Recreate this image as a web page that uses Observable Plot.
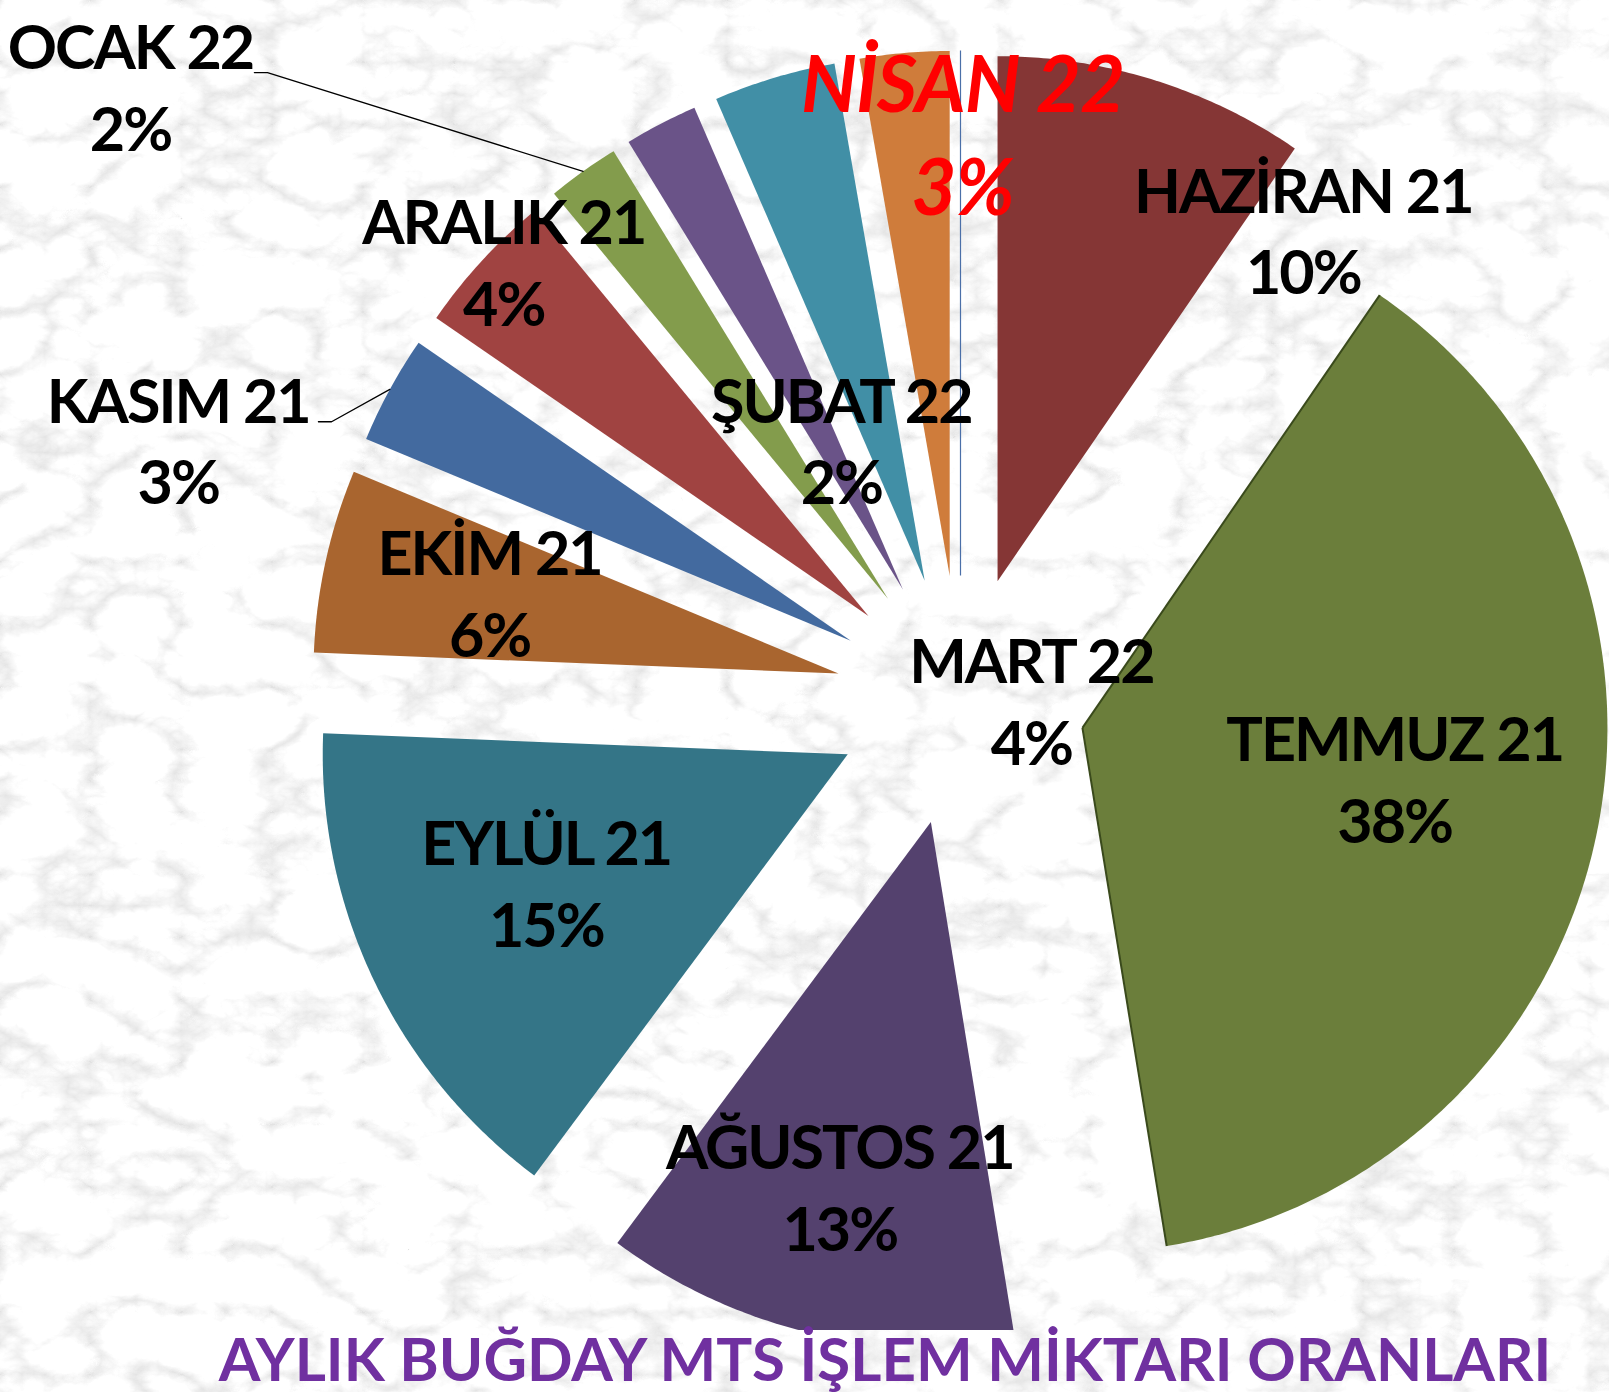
<!DOCTYPE html>
<html>
<head>
<meta charset="utf-8">
<script src="https://cdn.jsdelivr.net/npm/d3@7"></script>
<script src="https://cdn.jsdelivr.net/npm/@observablehq/plot@0.6"></script>
<style>
  html, body { margin: 0; padding: 0; }
  body { width: 1609px; height: 1392px; position: relative; overflow: hidden; font-family: Lato, "Open Sans", sans-serif; }
  #bg { position: absolute; left: 0; top: 0; }
  #chart { position: absolute; left: 0; top: 0; }
  #title { position: absolute; top: 1325px; left: 885px; transform: translateX(-50%); white-space: nowrap;
           font-family: Lato, sans-serif; font-weight: 700; font-size: 60px; line-height: 66px; color: #7030A0; }
</style>
</head>
<body>
<svg id="bg" width="1609" height="1392">
  <defs>
    <filter id="marble" x="0" y="0" width="100%" height="100%" color-interpolation-filters="sRGB">
      <feTurbulence type="turbulence" baseFrequency="0.011 0.016" numOctaves="6" seed="11" result="n"/>
      <feColorMatrix in="n" type="matrix" values="0.38 0 0 0 0.885  0.38 0 0 0 0.885  0.38 0 0 0 0.885  0 0 0 0 1"/>
    </filter>
  </defs>
  <rect width="1609" height="1392" fill="#f4f4f4"/>
  <rect width="1609" height="1392" filter="url(#marble)"/>
</svg>
<div id="chart"></div>
<div id="title">AYLIK BUĞDAY MTS İŞLEM MİKTARI ORANLARI</div>
<script>
// ---- data ----
const months = ["HAZİRAN 21", "TEMMUZ 21", "AĞUSTOS 21", "EYLÜL 21", "EKİM 21", "KASIM 21",
                "ARALIK 21", "OCAK 22", "ŞUBAT 22", "MART 22", "NİSAN 22", "MAYIS 22"];
const shares = [9.58, 37.85, 12.75, 15.45, 5.64, 3.33, 4.42, 2.22, 2.25, 3.75, 2.75, 0];
const colors = ["#853635", "#6B7E3B", "#54416E", "#347587", "#A9652F", "#436A9F",
                "#A04341", "#839C4C", "#6A5388", "#418FA6", "#CF7C3B", "#4A6FA8"];
const highlight = "NİSAN 22";
const outlined = "TEMMUZ 21";
// label centres, in pie-radius units relative to the pie centre (y up)
const labelPos = [[0.653, 0.901], [0.827, -0.143], [-0.230, -0.920], [-0.789, -0.341], [-0.897, 0.211],
                  [-1.490, 0.501], [-0.870, 0.841], [-1.581, 1.175], [-0.227, 0.501], [0.135, 0.005],
                  [0.004, 1.085], null];
// leader line start points (pie-radius units)
const leaders = [{month: "OCAK 22", u: -1.345, v: 1.196}, {month: "KASIM 21", u: -1.223, v: 0.531}];

// ---- geometry ----
const EXPLODE = 0.238;
const total = d3.sum(shares);
const arcs = d3.pie().sort(null).value(d => d)(shares);
const slices = arcs.map((p, i) => {
  const mid = (p.startAngle + p.endAngle) / 2;
  return {month: months[i], share: shares[i], start: p.startAngle, end: p.endAngle, mid,
          ax: EXPLODE * Math.sin(mid), ay: EXPLODE * Math.cos(mid),
          pct: Math.round(shares[i] / total * 100) + "%"};
});
const pts = slices.flatMap(s => {
  const n = Math.max(1, Math.ceil((s.end - s.start) / (Math.PI / 360)));
  const arr = [{month: s.month, x: s.ax, y: s.ay}];
  for (let k = 0; k <= n; k++) {
    const a = s.start + (s.end - s.start) * k / n;
    arr.push({month: s.month, x: s.ax + Math.sin(a), y: s.ay + Math.cos(a)});
  }
  arr.push({month: s.month, x: s.ax, y: s.ay});
  return arr;
});
const edges = slices.filter(s => s.month === outlined).flatMap(s => [s.start, s.end].map(a => ({
  month: s.month, x1: s.ax, y1: s.ay, x2: s.ax + Math.sin(a), y2: s.ay + Math.cos(a)})));
const zeroEdges = slices.filter(s => s.share === 0).map(s => ({
  month: s.month, x1: s.ax, y1: s.ay, x2: s.ax + Math.sin(s.start), y2: s.ay + Math.cos(s.start)}));
const labels = slices.map((s, i) => labelPos[i] && ({month: s.month, pct: s.pct, u: labelPos[i][0], v: labelPos[i][1]})).filter(Boolean);
const leaderPts = leaders.flatMap(l => {
  const s = slices.find(d => d.month === l.month);
  return [
    {month: l.month, x: l.u, y: l.v},
    {month: l.month, x: l.u + 0.025, y: l.v},
    {month: l.month, x: s.ax + Math.sin(s.mid), y: s.ay + Math.cos(s.mid)}
  ];
});

const R = 525, CX = 960, CY = 700, W = 1609, H = 1330;
const chart = Plot.plot({
  width: W, height: H, margin: 0,
  x: {domain: [-CX / R, (W - CX) / R], axis: null},
  y: {domain: [-(H - CY) / R, CY / R], axis: null},
  color: {domain: months, range: colors},
  style: {background: "transparent", fontFamily: "Lato, sans-serif"},
  marks: [
    Plot.line(pts.filter(d => d.month !== "MAYIS 22"), {x: "x", y: "y", z: "month", fill: "month", stroke: "none", curve: "linear"}),
    Plot.link(edges, {x1: "x1", y1: "y1", x2: "x2", y2: "y2", stroke: "#3A4A1C", strokeWidth: 2}),
    Plot.link(zeroEdges, {x1: "x1", y1: "y1", x2: "x2", y2: "y2", stroke: "month", strokeWidth: 1.2}),
    Plot.line(leaderPts, {x: "x", y: "y", z: "month", stroke: "black", strokeWidth: 1.3}),
    Plot.text(labels.filter(d => d.month !== highlight), {x: "u", y: "v", text: d => `${d.month}\n${d.pct}`,
      fontSize: 61, fontWeight: "bold", lineHeight: 1.34, fill: "black", className: "lbl"}),
    Plot.text(labels.filter(d => d.month === highlight), {x: "u", y: "v", text: d => `${d.month}\n${d.pct}`,
      fontSize: 78, fontWeight: "bold", fontStyle: "italic", lineHeight: 1.32, fill: "#FF0000", className: "hl"})
  ]
});
chart.querySelectorAll("g.lbl text").forEach(t => t.setAttribute("letter-spacing", "-2"));
chart.querySelectorAll("g.hl text").forEach(t => t.setAttribute("letter-spacing", "-1"));
document.getElementById("chart").appendChild(chart);
</script>
</body>
</html>
